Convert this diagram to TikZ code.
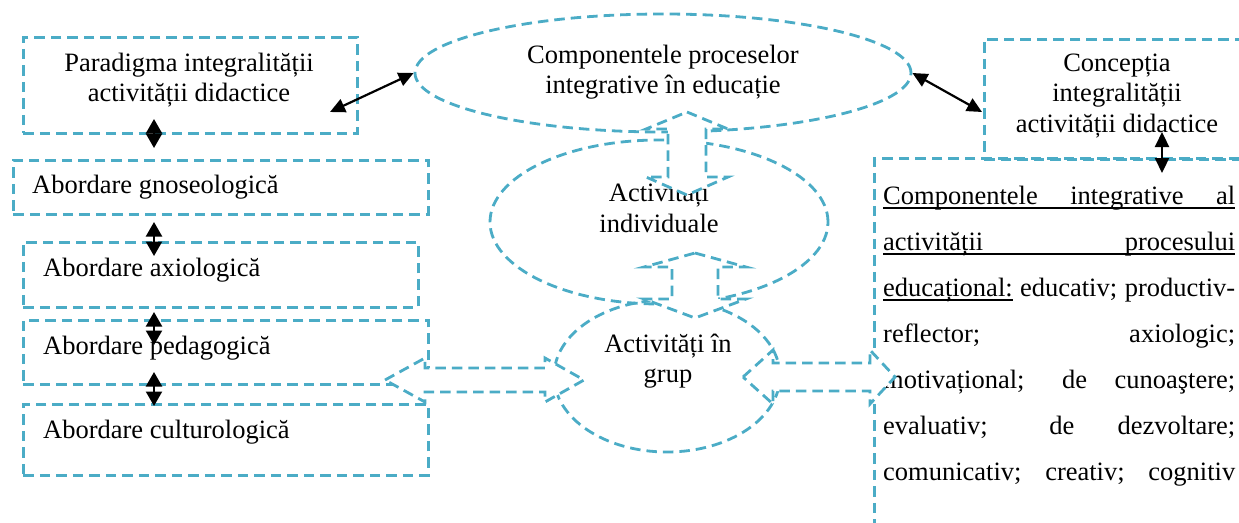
\documentclass[tikz,border=0pt]{standalone}
\usepackage{fontspec}
\setmainfont{Liberation Serif}
\usetikzlibrary{arrows.meta,shapes.geometric}
\definecolor{aqua}{HTML}{4BACC6}
\newcommand\dfont{\fontsize{26.5}{30.5}\selectfont}
\newsavebox\ulsave
\newcommand\ulbox[1]{\sbox\ulsave{#1}\rlap{\rule[-4.5pt]{\wd\ulsave}{2pt}}\usebox\ulsave}
\begin{document}
\begin{tikzpicture}[x=1pt, y=-1pt,
  dbox/.style={draw=aqua, line width=2.8pt, dash pattern=on 10.5pt off 6pt, inner sep=0pt},
  blockarrow/.style={draw=aqua, fill=white, line width=2.8pt, dash pattern=on 10.5pt off 6pt},
  txt/.style={font=\dfont, inner sep=0pt, align=center},
  ltxt/.style={font=\dfont, inner sep=0pt, anchor=base west},
  biarrow/.style={line width=2.2pt, {Triangle[length=15pt,width=14pt]}-{Triangle[length=15pt,width=14pt]}},
  diarrow/.style={line width=2.2pt, {Triangle[length=14.5pt,width=16pt]}-{Triangle[length=14.5pt,width=16pt]}}]
\useasboundingbox (0,0) rectangle (1239,522);
\clip (0,0) rectangle (1239,522);

% rectangular frames
\node[dbox, anchor=north west, minimum width=334pt, minimum height=96pt] (b1) at (22,36) {};
\node[dbox, anchor=north west, minimum width=415pt, minimum height=54pt] (bg) at (12,159) {};
\node[dbox, anchor=north west, minimum width=395pt, minimum height=65pt] (ba) at (22,241) {};
\node[dbox, anchor=north west, minimum width=405pt, minimum height=64pt] (bp) at (22,319) {};
\node[dbox, anchor=north west, minimum width=405pt, minimum height=71pt] (bc) at (22,403) {};
\node[dbox, anchor=north west, minimum width=285pt, minimum height=120pt] (bconc) at (983,38) {};
\node[dbox, anchor=north west, minimum width=395pt, minimum height=400pt] (bcomp) at (873,157) {};

% elliptical frames
\node[dbox, ellipse, minimum width=496pt, minimum height=118pt] (comp) at (663,73) {};
\node[dbox, ellipse, minimum width=338pt, minimum height=164pt] (ind) at (659,222) {};
\node[dbox, ellipse, minimum width=226pt, minimum height=152pt] (grp) at (667,376) {};

% texts
\node[txt] (t1) at (189,80) {Paradigma integralității\\activității didactice};
\node[ltxt] (tg) at (32,193) {Abordare gnoseologică};
\node[ltxt] (ta) at (43,276) {Abordare axiologică};
\node[ltxt] (tp) at (43,354) {Abordare pedagogică};
\node[ltxt] (tc) at (43,438) {Abordare culturologică};
\node[txt] (tcomp) at (663,72) {Componentele proceselor\\integrative în educație};
\node[txt] (tconc) at (1117,96) {Concepția\\integralității\\activității didactice};
\node[txt] (tind) at (659,208) {Activități\\individuale};
\node[txt] (tgrp) at (668,361) {Activități în\\grup};

\node[ltxt] (r1) at (883,204) {\ulbox{\makebox[352pt][s]{Componentele integrative al}}};
\node[ltxt] (r2) at (883,250) {\ulbox{\makebox[352pt][s]{activității procesului}}};
\node[ltxt] (r3) at (883,296) {\makebox[352pt][s]{\ulbox{educațional:} educativ; productiv-}};
\node[ltxt] (r4) at (883,342) {\makebox[352pt][s]{reflector; axiologic;}};
\node[ltxt] (r5) at (883,388) {\makebox[352pt][s]{motivațional; de cunoaştere;}};
\node[ltxt] (r6) at (883,434) {\makebox[352pt][s]{evaluativ; de dezvoltare;}};
\node[ltxt] (r7) at (883,480) {\makebox[352pt][s]{comunicativ; creativ; cognitiv}};

% outlined block arrows
\draw[blockarrow] (687,112) -- (728,129) -- (706,129) -- (706,177) -- (728,177) -- (687,195)
  -- (646,177) -- (668,177) -- (668,129) -- (646,129) -- cycle;
\draw[blockarrow] (695,253) -- (746,267) -- (718,267) -- (718,299) -- (746,299) -- (695,318)
  -- (644,299) -- (672,299) -- (672,267) -- (644,267) -- cycle;
\draw[blockarrow] (385,380) -- (425,358) -- (425,368) -- (545,368) -- (545,358) -- (584,380)
  -- (545,402) -- (545,392) -- (425,392) -- (425,402) -- cycle;
\draw[blockarrow] (743,377) -- (773,350) -- (773,363) -- (870,363) -- (870,350) -- (895,377)
  -- (870,404) -- (870,391) -- (773,391) -- (773,404) -- cycle;

% black double arrows
\coordinate (p1) at (330,112);
\coordinate (p2) at (982,112);
\coordinate (p3) at (1162,132);
\coordinate (p4) at (1162,173);
\draw[biarrow] (p1) -- (comp.west);
\draw[biarrow] (comp.east) -- (p2);
\draw[biarrow] (p3) -- (p4);
\coordinate (v1) at (154,119);
\coordinate (v2) at (154,148);
\coordinate (v3) at (154,222);
\coordinate (v4) at (154,256);
\coordinate (v5) at (154,312);
\coordinate (v6) at (154,345);
\coordinate (v7) at (154,372);
\coordinate (v8) at (154,406);
\draw[diarrow] (v1) -- (v2);
\draw[diarrow] (v3) -- (v4);
\draw[diarrow] (v5) -- (v6);
\draw[diarrow] (v7) -- (v8);
\end{tikzpicture}
\end{document}
